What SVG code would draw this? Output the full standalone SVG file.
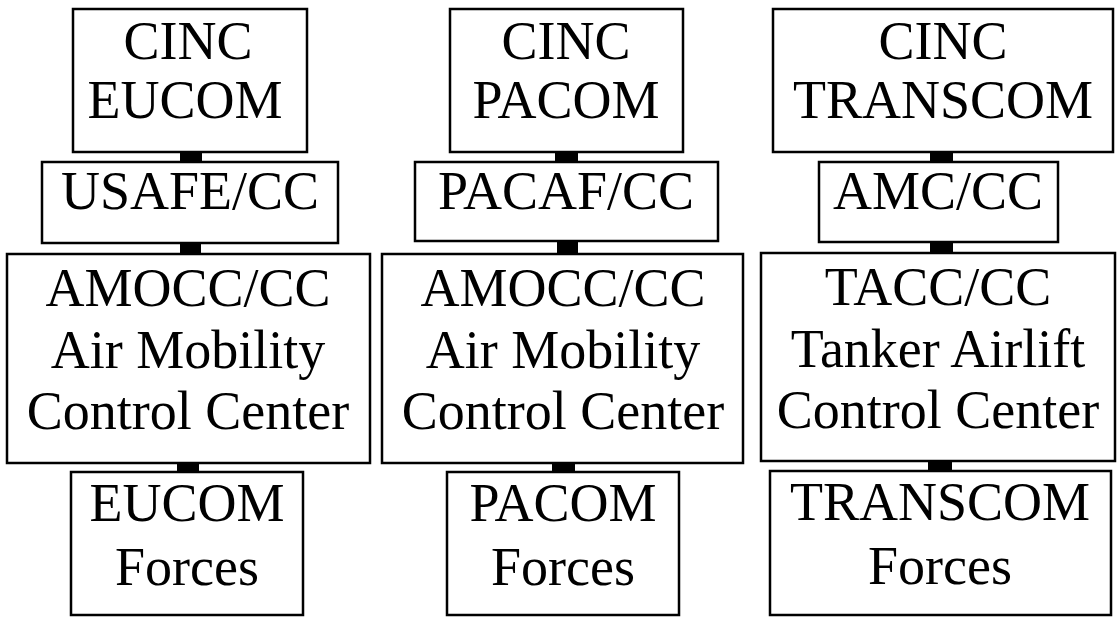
<svg xmlns="http://www.w3.org/2000/svg" width="1117" height="617" viewBox="0 0 1117 617">
<style>
.box{fill:#fff;stroke:#000;stroke-width:2.5}
.con{fill:#000}
text{font-family:"Liberation Serif","Times New Roman",serif;font-size:54px;fill:#000;text-anchor:middle}
</style>
<rect width="1117" height="617" fill="#fff"/>
<g id="connectors">
<rect class="con" x="180" y="152" width="22" height="10"/>
<rect class="con" x="180" y="243" width="21" height="11"/>
<rect class="con" x="177" y="463" width="22" height="9"/>
<rect class="con" x="555" y="152" width="23" height="10"/>
<rect class="con" x="557" y="241" width="21" height="13"/>
<rect class="con" x="552" y="463" width="23" height="9"/>
<rect class="con" x="930" y="152" width="23" height="10"/>
<rect class="con" x="930" y="242" width="23" height="11"/>
<rect class="con" x="928" y="461" width="24" height="10"/>
</g>
<g id="cinc-eucom"><rect class="box" x="73" y="9" width="234" height="143"/><text x="188" y="59">CINC</text><text x="185" y="118">EUCOM</text></g>
<g id="usafe-cc"><rect class="box" x="42" y="162" width="296" height="81"/><text x="190" y="209">USAFE/CC</text></g>
<g id="amocc-eucom"><rect class="box" x="7" y="254" width="363" height="209"/><text x="188" y="306">AMOCC/CC</text><text x="188" y="368">Air Mobility</text><text x="188" y="429">Control Center</text></g>
<g id="eucom-forces"><rect class="box" x="71" y="472" width="232" height="143"/><text x="187" y="521">EUCOM</text><text x="187" y="585">Forces</text></g>
<g id="cinc-pacom"><rect class="box" x="450" y="9" width="233" height="143"/><text x="566" y="59">CINC</text><text x="566" y="118">PACOM</text></g>
<g id="pacaf-cc"><rect class="box" x="415" y="162" width="303" height="79"/><text x="566" y="209">PACAF/CC</text></g>
<g id="amocc-pacom"><rect class="box" x="382" y="254" width="361" height="209"/><text x="563" y="306">AMOCC/CC</text><text x="563" y="368">Air Mobility</text><text x="563" y="429">Control Center</text></g>
<g id="pacom-forces"><rect class="box" x="447" y="472" width="232" height="143"/><text x="563" y="521">PACOM</text><text x="563" y="585">Forces</text></g>
<g id="cinc-transcom"><rect class="box" x="773" y="9" width="340" height="143"/><text x="943" y="59">CINC</text><text x="943" y="118">TRANSCOM</text></g>
<g id="amc-cc"><rect class="box" x="819" y="162" width="239" height="80"/><text x="938" y="209">AMC/CC</text></g>
<g id="tacc-cc"><rect class="box" x="761" y="253" width="354" height="208"/><text x="938" y="305">TACC/CC</text><text x="938" y="367">Tanker Airlift</text><text x="938" y="428">Control Center</text></g>
<g id="transcom-forces"><rect class="box" x="770" y="471" width="341" height="144"/><text x="940" y="520">TRANSCOM</text><text x="940" y="584">Forces</text></g>
</svg>
